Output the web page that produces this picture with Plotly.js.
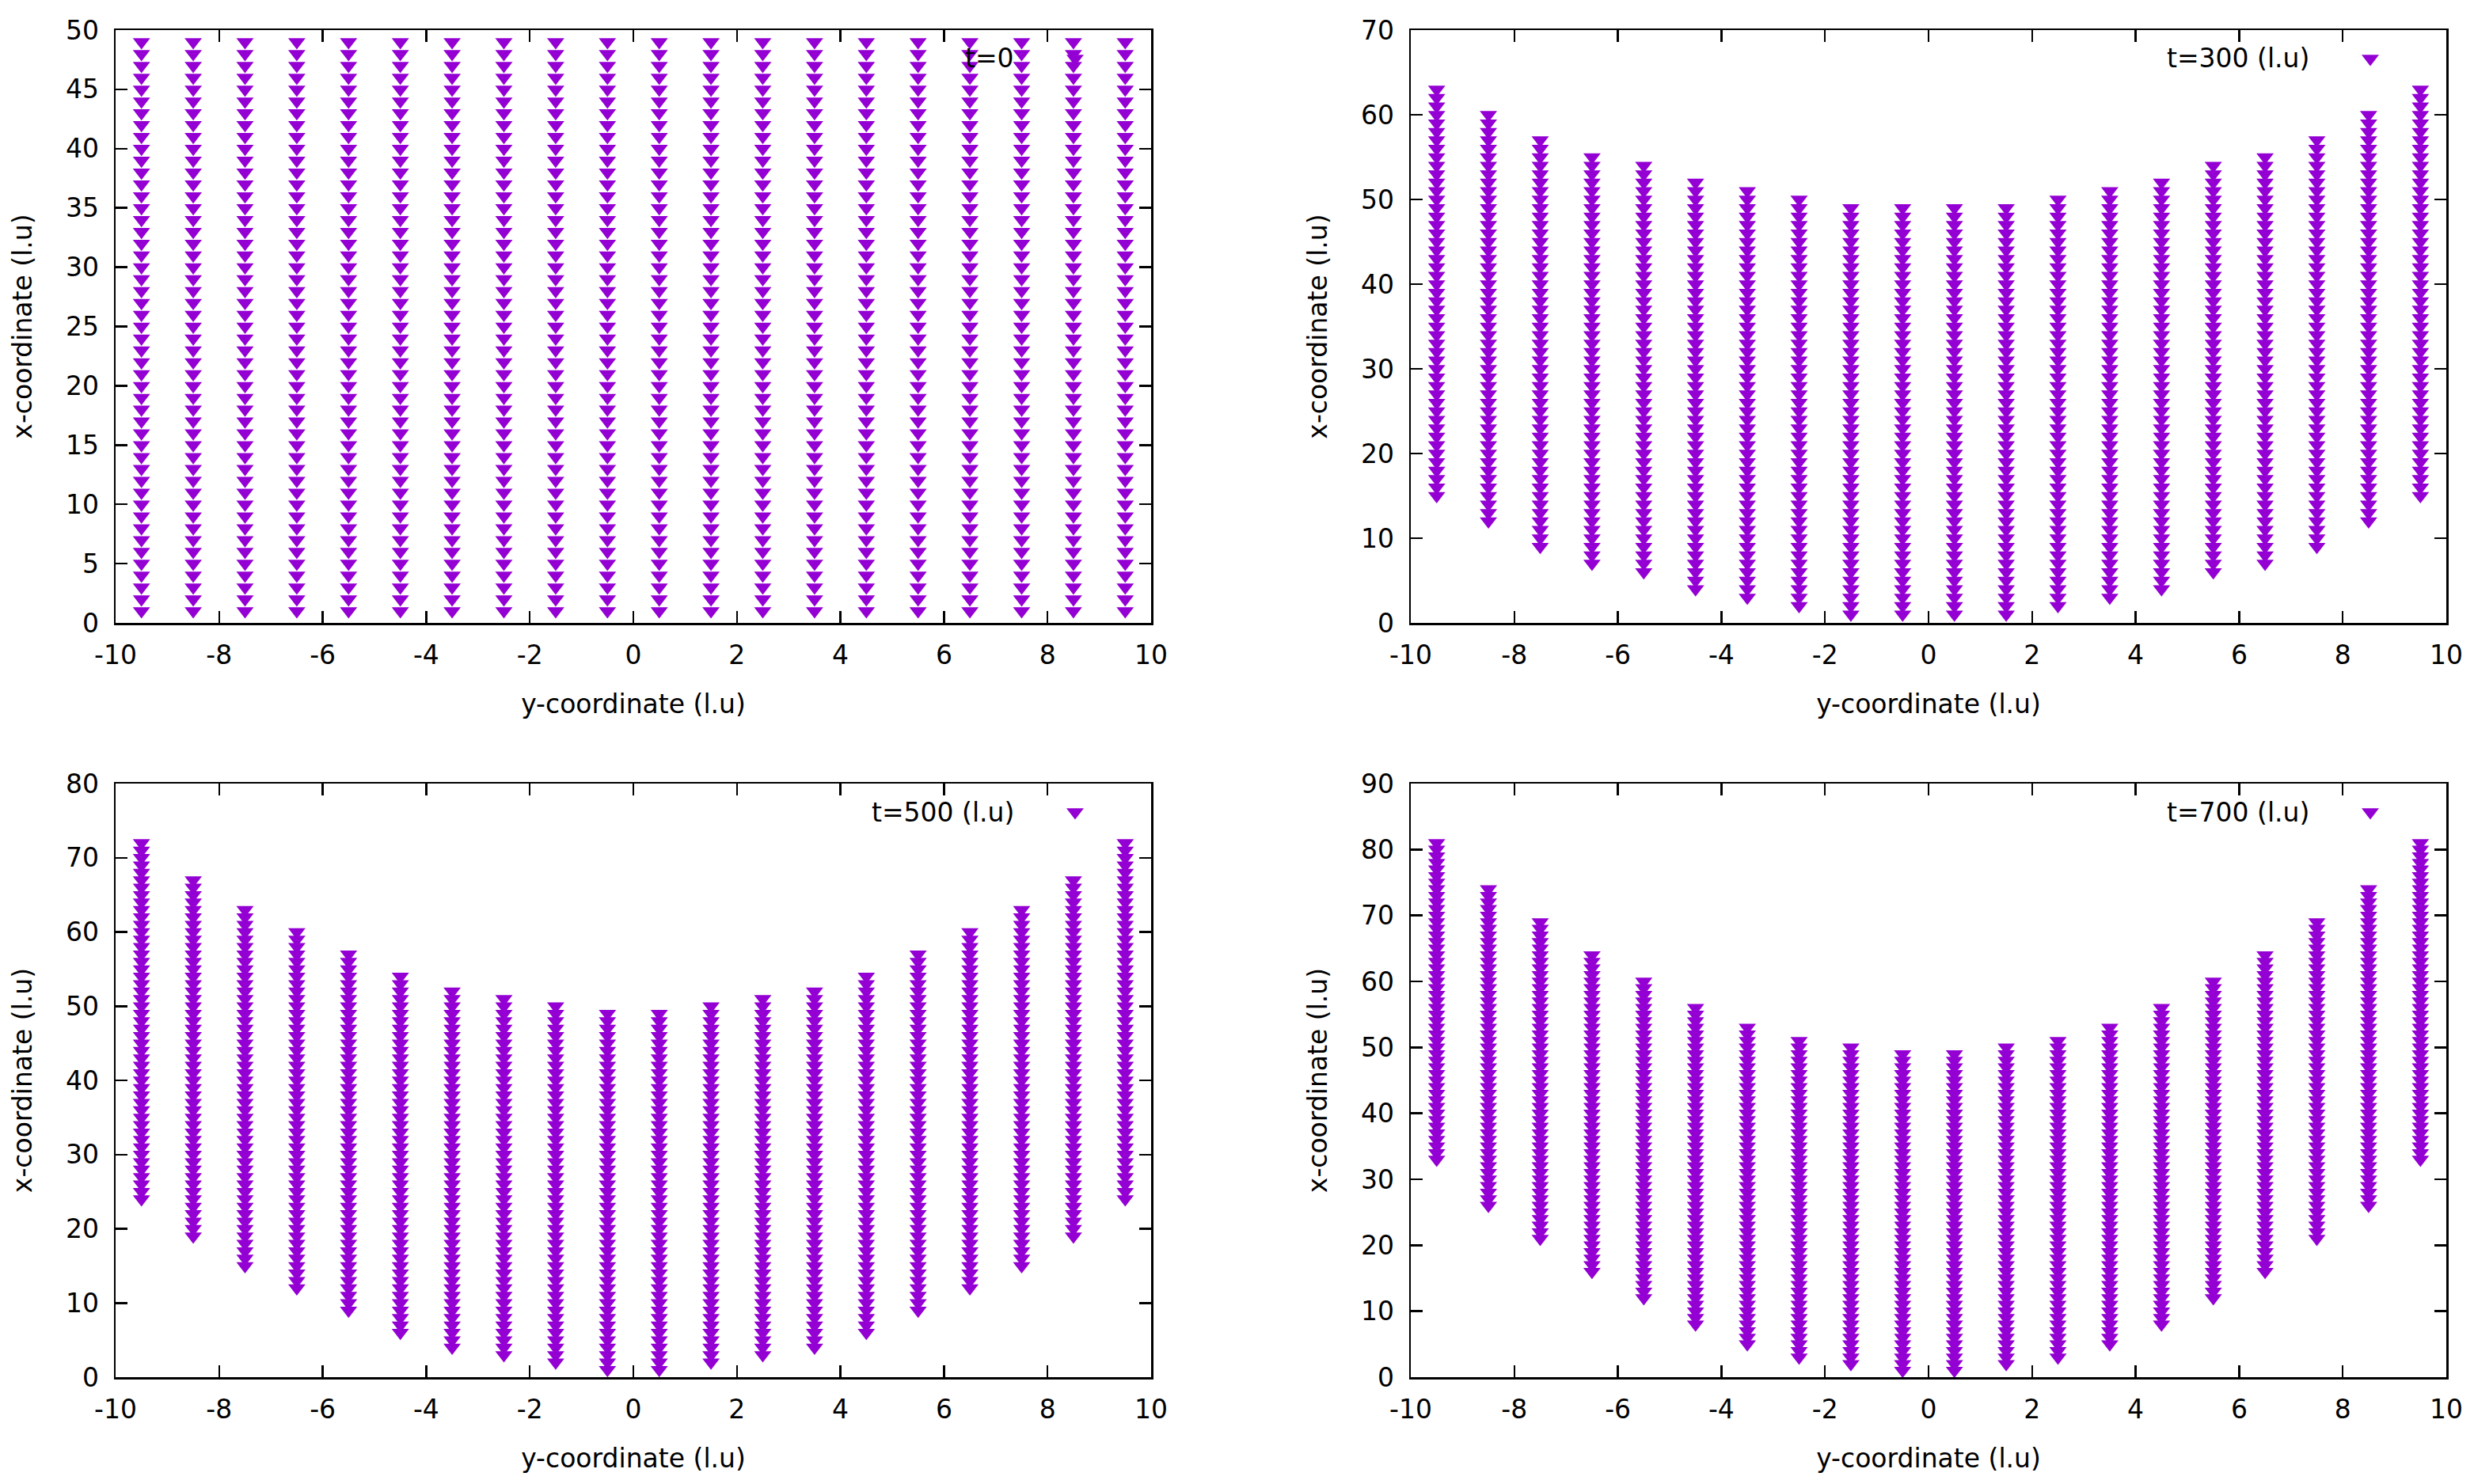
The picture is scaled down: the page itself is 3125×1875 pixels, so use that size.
<!DOCTYPE html>
<html>
<head>
<meta charset="utf-8">
<script src="https://cdn.plot.ly/plotly-3.0.1.min.js"></script>
<style>
  html, body { margin: 0; padding: 0; background: #fff; }
  #plot { width: 3125px; height: 1875px; }
</style>
</head>
<body>
<div id="plot"></div>
<script>
// lateral position of each lattice column (y-coordinate, l.u)
const columnY = [-9.5, -8.5, -7.5, -6.5, -5.5, -4.5, -3.5, -2.5, -1.5, -0.5,
                 0.5, 1.5, 2.5, 3.5, 4.5, 5.5, 6.5, 7.5, 8.5, 9.5];

// lowest and highest node of every column
const bottom0   = [1, 1, 1, 1, 1, 1, 1, 1, 1, 1, 1, 1, 1, 1, 1, 1, 1, 1, 1, 1];
const top0      = [49, 49, 49, 49, 49, 49, 49, 49, 49, 49, 49, 49, 49, 49, 49, 49, 49, 49, 49, 49];
const bottom300 = [15, 12, 9, 7, 6, 4, 3, 2, 1, 1, 1, 1, 2, 3, 4, 6, 7, 9, 12, 15];
const top300    = [63, 60, 57, 55, 54, 52, 51, 50, 49, 49, 49, 49, 50, 51, 52, 54, 55, 57, 60, 63];
const bottom500 = [24, 19, 15, 12, 9, 6, 4, 3, 2, 1, 1, 2, 3, 4, 6, 9, 12, 15, 19, 24];
const top500    = [72, 67, 63, 60, 57, 54, 52, 51, 50, 49, 49, 50, 51, 52, 54, 57, 60, 63, 67, 72];
const bottom700 = [33, 26, 21, 16, 12, 8, 5, 3, 2, 1, 1, 2, 3, 5, 8, 12, 16, 21, 26, 33];
const top700    = [81, 74, 69, 64, 60, 56, 53, 51, 50, 49, 49, 50, 51, 53, 56, 60, 64, 69, 74, 81];

// nodes sit one lattice unit apart inside a column
const latticeStep = 1;

// x tick labels use a plain hyphen, as gnuplot prints them
const xTickVals = [-10, -8, -6, -4, -2, 0, 2, 4, 6, 8, 10];
const xTickText = ["-10", "-8", "-6", "-4", "-2", "0", "2", "4", "6", "8", "10"];

const labels = ["t=0", "t=300 (l.u)", "t=500 (l.u)", "t=700 (l.u)"];
const yMax = [50, 70, 80, 90];
const yStep = [5, 10, 10, 10];
const bottoms = [bottom0, bottom300, bottom500, bottom700];
const tops = [top0, top300, top500, top700];

const W = 3125, H = 1875;
const purple = "#9400d3";
const fontFam = "DejaVu Sans, sans-serif";

// panel boxes in pixels: [left, right, top, bottom]
const boxes = [
  [146, 1454, 38, 787],
  [1782, 3090, 38, 787],
  [146, 1454, 990, 1740],
  [1782, 3090, 990, 1740]
];

function columnNodes(bottom, top) {
  const xs = [];
  const ys = [];
  for (let c = 0; c < columnY.length; c++) {
    for (let v = bottom[c]; v <= top[c] + 1e-9; v += latticeStep) {
      xs.push(columnY[c]);
      ys.push(v);
    }
  }
  return { xs, ys };
}

const traces = [];
const layout = {
  width: W,
  height: H,
  margin: { l: 0, r: 0, t: 0, b: 0 },
  paper_bgcolor: "#fff",
  plot_bgcolor: "#fff",
  showlegend: false,
  font: { family: fontFam, size: 33, color: "#000" },
  annotations: [],
  shapes: []
};

for (let p = 0; p < 4; p++) {
  const sfx = p === 0 ? "" : String(p + 1);
  const nodes = columnNodes(bottoms[p], tops[p]);
  traces.push({
    type: "scatter",
    mode: "markers",
    x: nodes.xs,
    y: nodes.ys,
    xaxis: "x" + sfx,
    yaxis: "y" + sfx,
    name: labels[p],
    marker: { symbol: "triangle-down", size: 19, color: purple, line: { width: 0 } },
    hoverinfo: "skip"
  });

  const [l, r, t, b] = boxes[p];
  const common = {
    showline: true,
    linecolor: "#000",
    linewidth: 2.5,
    mirror: "ticks",
    ticks: "inside",
    ticklen: 15,
    tickwidth: 2.5,
    tickcolor: "#000",
    showgrid: false,
    zeroline: false,
    tickfont: { family: fontFam, size: 33, color: "#000" }
  };

  layout["xaxis" + sfx] = Object.assign({}, common, {
    domain: [l / W, r / W],
    anchor: "y" + sfx,
    range: [-10, 10],
    tickmode: "array",
    tickvals: xTickVals,
    ticktext: xTickText,
    ticklabelstandoff: 10,
    title: { text: "y-coordinate (l.u)", font: { family: fontFam, size: 33 }, standoff: 32 }
  });
  layout["yaxis" + sfx] = Object.assign({}, common, {
    domain: [1 - b / H, 1 - t / H],
    anchor: "x" + sfx,
    range: [0, yMax[p]],
    dtick: yStep[p],
    tick0: 0,
    ticklabelstandoff: 12,
    title: { text: "x-coordinate (l.u)", font: { family: fontFam, size: 33 }, standoff: 33 }
  });

  // key: text followed by the symbol, gnuplot style
  const keyY = 1 - (t + 36) / H;
  layout.annotations.push({
    xref: "paper", yref: "paper",
    x: (r - 171) / W, y: keyY,
    xanchor: "right", yanchor: "middle",
    text: labels[p],
    showarrow: false,
    font: { family: fontFam, size: 33, color: "#000" }
  });
  layout.shapes.push({
    type: "path",
    xref: "paper", yref: "paper",
    xsizemode: "pixel", ysizemode: "pixel",
    xanchor: (r - 96) / W, yanchor: keyY,
    path: "M-11,4.75 L11,4.75 L0,-9.5 Z",
    fillcolor: purple,
    line: { width: 0 },
    layer: "below"
  });
}

Plotly.newPlot("plot", traces, layout, { displayModeBar: false, staticPlot: true });
</script>
</body>
</html>
